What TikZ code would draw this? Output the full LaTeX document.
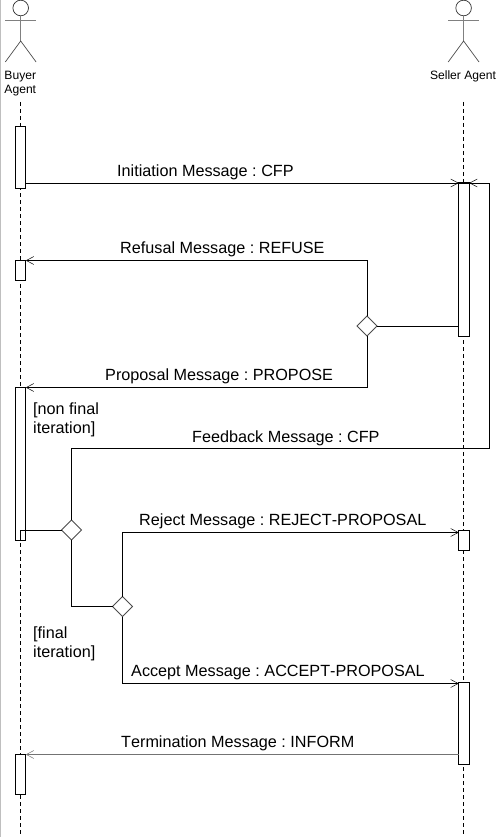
\documentclass[tikz,border=0pt]{standalone}
\usepackage{fontspec}
\setmainfont[Kerning=Off]{Liberation Sans}
\usetikzlibrary{shapes.geometric}
\usetikzlibrary{arrows.meta}
\frenchspacing
\tikzset{
    activation/.style={
        draw,
        fill=white,
        line width=1pt,
        minimum width=10.6pt,
        inner sep=0pt,
        outer sep=0pt,
        anchor=north},
    branch/.style={
        diamond,
        draw=black!70,
        fill=white,
        line width=.9pt,
        minimum width=20pt,
        minimum height=20pt,
        inner sep=0pt,
        outer sep=0pt},
    msg/.style={
        draw,
        line width=.9pt,
        -{Straight Barb[length=7.5pt,width=8pt,line width=.5pt]}},
    wire/.style={
        draw,
        line width=.9pt},
    lifeline/.style={
        draw,
        line width=.9pt,
        dash pattern=on 4pt off 3pt},
    msgtext/.style={
        font=\fontsize{16.2}{19}\selectfont,
        align=left,
        inner sep=0pt,
        anchor=base west},
    actortext/.style={
        font=\fontsize{12.1}{14}\selectfont,
        align=center,
        inner sep=0pt},
    actor/.pic={
        \node[draw=black!80,circle,line width=.7pt,minimum size=15.6pt,inner sep=0pt,outer sep=0pt] (-head) at (0,8) {};
        \draw[black!50,line width=1.2pt] (-head.south) -- (0,41);
        \draw[black!50,line width=1.2pt] (-15.4,20.7) -- (15.4,20.7);
        \draw[black!70,line width=.7pt] (-15.4,62) -- (0,41) -- (15.4,62);
    }}

\begin{document}
\begin{tikzpicture}[x=1pt,y=-1pt]
    \useasboundingbox (0,0) rectangle (497,837);
    \fill[black!25] (0,0) rectangle (1,837);

    \pic (buyer) at (20.7,0) {actor};
    \pic (seller) at (463.6,0) {actor};
    \node[actortext] (buyerlabel) at (20.3,84) {Buyer\\Agent};
    \node[actortext] (sellerlabel) at (463,76) {Seller Agent};

    \coordinate (buyertop) at (20.5,102);
    \coordinate (buyerend) at (20.5,837);
    \coordinate (sellertop) at (463.5,102);
    \coordinate (sellerend) at (463.5,836);
    \draw[lifeline] (buyertop) -- (buyerend);
    \draw[lifeline] (sellertop) -- (sellerend);

    \node[activation,minimum height=61pt] (a1) at (20.5,127) {};
    \node[activation,minimum height=19.5pt] (a2) at (20.5,260.5) {};
    \node[activation,minimum height=152.5pt] (a3) at (20.5,387.5) {};
    \node[activation,minimum height=40pt] (a4) at (20.5,754.5) {};
    \node[activation,minimum height=153.5pt] (s1) at (464,183) {};
    \node[activation,minimum height=20pt] (s2) at (464,530.5) {};
    \node[activation,minimum height=82pt] (s3) at (464,682) {};

    \node[branch] (d1) at (367,326) {};
    \node[branch] (d2) at (71.5,530) {};
    \node[branch] (d3) at (122.5,606.5) {};

    \coordinate (backtop) at (489.5,183);
    \coordinate (backend) at (489.5,448);
    \coordinate (rejectin) at (458.7,532.5);
    \coordinate (acceptin) at (458.7,683.5);
    \coordinate (termout) at (458.7,754.5);

    \draw[msg] (a1.east |- s1.north) -- (s1.north west);
    \draw[msg] (d1.north) |- (a2.north east);
    \draw[msg] (d1.south) |- (a3.north east);
    \draw[wire] (d1.east) -- (s1.west |- d1.east);
    \draw[msg] (d2.north) |- (backend) -- (backtop) -- (s1.north east);
    \draw[wire] (a3.south) |- (d2.west);
    \draw[wire] (d2.south) |- (d3.west);
    \draw[msg] (d3.north) |- (rejectin);
    \draw[msg] (d3.south) |- (acceptin);
    \draw[msg,black!55,line width=1.2pt] (termout) -- (a4.north east);

    \node[msgtext] (initlabel) at (117,177) {Initiation Message : CFP};
    \node[msgtext] (refuselabel) at (120,253) {Refusal Message : REFUSE};
    \node[msgtext] (proposelabel) at (105,380) {Proposal Message : PROPOSE};
    \node[msgtext] (backlabel) at (192,442) {Feedback Message : CFP};
    \node[msgtext] (rejectlabel) at (139,525) {Reject Message : REJECT-PROPOSAL};
    \node[msgtext] (acceptlabel) at (131,676) {Accept Message : ACCEPT-PROPOSAL};
    \node[msgtext] (termlabel) at (121,747) {Termination Message : INFORM};
    \node[msgtext,anchor=west] (nonfinal) at (33,420) {[non final\\iteration]};
    \node[msgtext,anchor=west] (final) at (33,644) {[final\\iteration]};
\end{tikzpicture}
\end{document}
